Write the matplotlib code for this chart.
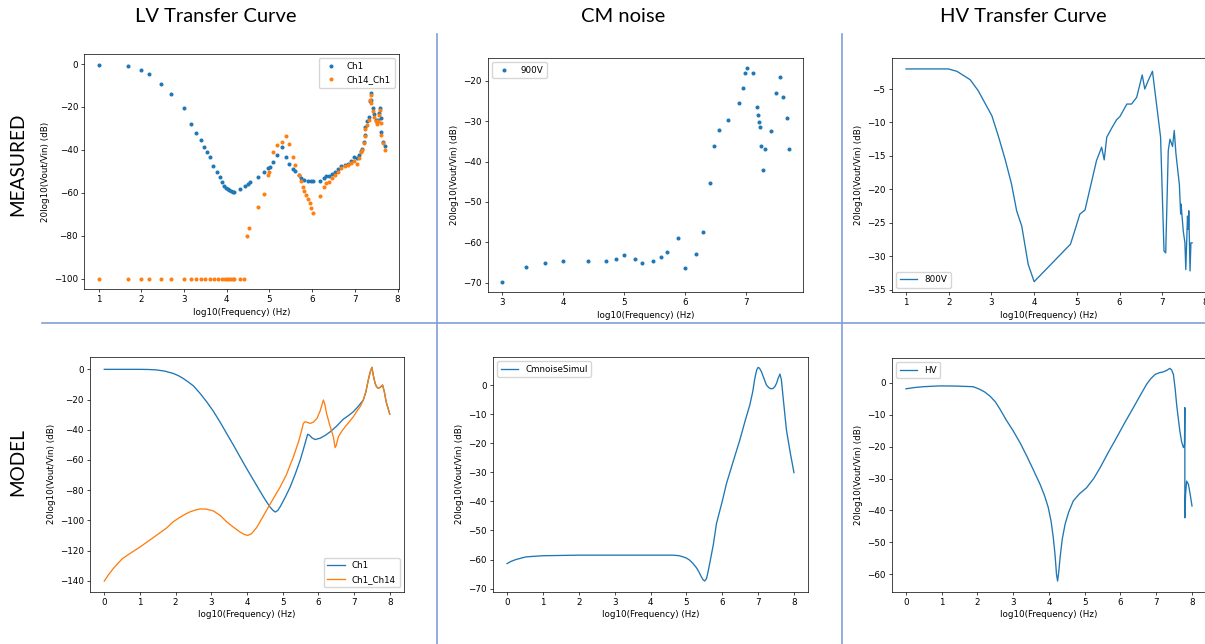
import matplotlib
matplotlib.use("Agg")
import matplotlib.pyplot as plt
from matplotlib.lines import Line2D

# ---------------- measured: LV transfer curve ----------------
lv_ch1_logf = [1.0, 1.70, 1.99, 2.17, 2.47, 2.70, 2.99, 3.17, 3.28, 3.40, 3.47, 3.54,
               3.61, 3.69, 3.78, 3.84, 3.89, 3.94, 3.99, 4.03, 4.06, 4.10, 4.14, 4.18,
               4.30, 4.42, 4.49, 4.55, 4.73, 4.87, 4.97, 5.01, 5.08, 5.18, 5.29, 5.40,
               5.47, 5.55, 5.61, 5.69, 5.75, 5.82, 5.90, 5.98, 6.02, 6.18, 6.29, 6.33,
               6.39, 6.46, 6.53, 6.61, 6.68, 6.76, 6.84, 6.92, 6.97, 7.04, 7.10, 7.14,
               7.18, 7.21, 7.23, 7.25, 7.29, 7.33, 7.35, 7.37, 7.39, 7.42, 7.45, 7.49,
               7.52, 7.54, 7.57, 7.58, 7.61, 7.62, 7.66, 7.70]
lv_ch1_db = [-0.3, -0.9, -2.8, -4.5, -9.2, -13.8, -20.4, -28.0, -32.0, -35.6, -38.6, -41.0,
             -43.4, -47.3, -50.2, -52.7, -54.9, -56.8, -57.7, -58.3, -58.8, -59.3, -59.6, -59.6,
             -58.2, -56.8, -55.7, -55.0, -52.7, -50.4, -48.5, -48.0, -45.6, -42.6, -38.7, -43.1,
             -46.5, -48.7, -49.9, -51.9, -53.2, -54.1, -54.6, -54.7, -54.7, -54.3, -52.9, -52.4,
             -52.4, -51.2, -50.2, -49.0, -47.4, -47.1, -46.7, -45.1, -43.4, -44.0, -42.3, -40.3,
             -39.5, -36.1, -33.0, -29.4, -26.7, -24.7, -17.4, -13.5, -16.6, -20.5, -23.2, -26.0,
             -27.2, -26.0, -22.9, -20.5, -25.2, -31.9, -36.1, -38.4]

lv_ch14_logf = [1.0, 1.70, 1.99, 2.17, 2.47, 2.70, 2.99, 3.17, 3.28, 3.40, 3.49, 3.60,
                3.70, 3.79, 3.89, 3.95, 4.00, 4.05, 4.09, 4.14, 4.18, 4.30, 4.40,
                4.47, 4.53, 4.73, 4.87, 4.97, 5.00, 5.08, 5.18, 5.29, 5.40, 5.47, 5.55,
                5.61, 5.69, 5.75, 5.78, 5.82, 5.86, 5.90, 5.94, 5.98, 6.02, 6.18, 6.29,
                6.33, 6.39, 6.46, 6.53, 6.61, 6.68, 6.76, 6.84, 6.92, 6.97, 7.04, 7.10,
                7.14, 7.18, 7.21, 7.23, 7.25, 7.29, 7.33, 7.35, 7.37, 7.39, 7.42, 7.45,
                7.49, 7.52, 7.54, 7.57, 7.58, 7.61, 7.62, 7.66, 7.70]
lv_ch14_db = [-100, -100, -100, -100, -100, -100, -100, -100, -100, -100, -100, -100,
              -100, -100, -100, -100, -100, -100, -100, -100, -100, -100, -100,
              -80.1, -76.5, -66.4, -60.5, -51.6, -50.1, -41.2, -37.8, -36.2, -33.7, -37.2, -43.1,
              -47.0, -51.6, -54.5, -57.1, -59.4, -61.0, -63.0, -64.9, -67.2, -69.2, -61.7, -57.1,
              -55.5, -55.2, -53.2, -51.6, -50.1, -48.5, -47.7, -47.0, -46.2, -45.4, -46.5, -43.9,
              -41.2, -40.0, -36.9, -33.7, -30.3, -28.3, -26.0, -16.6, -14.3, -18.2, -22.1, -24.7,
              -26.7, -27.8, -26.7, -23.6, -21.3, -27.5, -33.0, -36.9, -40.0]

# ---------------- measured: CM noise ----------------
cm_meas_logf = [3.00, 3.40, 3.70, 4.00, 4.40, 4.70, 4.87, 4.99, 5.18, 5.30, 5.48, 5.60,
                5.71, 5.88, 6.00, 6.18, 6.30, 6.41, 6.48, 6.56, 6.70, 6.88, 6.94, 6.98,
                7.01, 7.11, 7.18, 7.20, 7.21, 7.22, 7.25, 7.27, 7.31, 7.41, 7.48, 7.56,
                7.61, 7.66, 7.70]
cm_meas_db = [-69.7, -66.2, -65.1, -64.5, -64.6, -64.5, -64.1, -63.2, -64.0, -65.2, -64.5, -63.7,
              -62.4, -59.0, -66.4, -62.9, -57.5, -45.2, -36.2, -32.2, -29.6, -25.4, -21.8, -18.2,
              -16.95, -18.0, -26.5, -28.4, -30.1, -31.5, -36.1, -42.2, -36.9, -32.4, -23.0, -19.1,
              -24.0, -29.2, -36.9]

# ---------------- measured: HV transfer curve ----------------
hv_meas_logf = [1.00, 1.99, 2.19, 2.50, 2.69, 3.01, 3.16, 3.32, 3.47, 3.59, 3.71, 3.86,
                4.00, 4.85, 4.96, 5.07, 5.19, 5.46, 5.58, 5.64, 5.70, 5.82, 5.93, 6.01,
                6.17, 6.28, 6.40, 6.53, 6.59, 6.67, 6.77, 6.96, 7.04, 7.08, 7.14, 7.18,
                7.24, 7.28, 7.32, 7.40, 7.43, 7.44, 7.49, 7.53, 7.55, 7.59, 7.61, 7.62,
                7.65, 7.67, 7.70]
hv_meas_db = [-2.0, -2.0, -2.35, -3.6, -5.25, -9.0, -12.0, -15.5, -19.2, -23.2, -25.5, -31.2,
              -33.8, -28.2, -26.0, -23.7, -23.1, -15.7, -13.7, -15.6, -12.2, -10.8, -9.6, -9.1,
              -7.25, -7.25, -6.25, -2.9, -5.0, -3.75, -2.35, -12.2, -29.2, -29.5, -14.2, -12.5,
              -13.6, -11.2, -14.7, -19.3, -23.7, -22.2, -26.2, -28.0, -32.0, -24.0, -26.0, -23.2,
              -32.2, -28.0, -28.0]

# ---------------- model: LV transfer curve ----------------
lv_mod_ch1_logf = [0.0, 0.5, 1.0, 1.25, 1.47, 1.7, 1.93, 2.07, 2.21, 2.35, 2.50, 2.68, 2.87,
                   3.05, 3.24, 3.43, 3.62, 3.80, 3.99, 4.18, 4.36, 4.50, 4.64, 4.72, 4.79,
                   4.86, 4.93, 5.07, 5.21, 5.35, 5.49, 5.58, 5.67, 5.70, 5.75, 5.82, 5.91,
                   6.05, 6.20, 6.33, 6.50, 6.70, 6.85, 6.98, 7.10, 7.17, 7.26, 7.33, 7.40,
                   7.45, 7.50, 7.54, 7.59, 7.63, 7.68, 7.74, 7.80, 7.85, 7.90, 8.0]
lv_mod_ch1_db = [0.0, 0.0, 0.0, -0.1, -0.4, -1.2, -2.7, -4.1, -6.0, -8.3, -11.0, -15.8, -21.5,
                 -27.5, -34.7, -42.5, -50.2, -57.8, -65.7, -73.3, -80.5, -86.0, -91.0, -93.2, -94.5,
                 -93.5, -91.0, -84.8, -77.9, -69.5, -60.2, -53.0, -45.5, -43.0, -43.6, -45.4, -46.5,
                 -45.6, -43.6, -41.4, -37.9, -33.0, -30.5, -28.1, -25.0, -23.0, -20.3, -15.0, -7.0,
                 -2.0, 1.3, -4.0, -9.3, -11.5, -12.6, -11.8, -10.4, -15.0, -21.5, -29.6]

lv_mod_ch14_logf = [0.0, 0.05, 0.12, 0.25, 0.5, 0.75, 1.0, 1.25, 1.5, 1.75, 1.93, 2.10, 2.25,
                    2.40, 2.55, 2.68, 2.85, 3.06, 3.25, 3.43, 3.60, 3.80, 3.92, 4.02, 4.12,
                    4.27, 4.40, 4.55, 4.74, 4.93, 5.10, 5.30, 5.45, 5.52, 5.58, 5.63, 5.70,
                    5.77, 5.86, 5.96, 6.05, 6.11, 6.14, 6.18, 6.23, 6.32, 6.42, 6.47, 6.50,
                    6.56, 6.67, 6.79, 6.98, 7.10, 7.17, 7.26, 7.33, 7.40, 7.45, 7.50, 7.54,
                    7.59, 7.63, 7.68, 7.74, 7.80, 7.85, 7.90, 8.0]
lv_mod_ch14_db = [-140.2, -138.5, -136.0, -132.0, -125.5, -121.5, -117.7, -113.5, -109.3, -105.0,
                  -101.0, -98.3, -96.2, -94.4, -93.2, -92.5, -92.5, -93.8, -96.8, -101.0, -104.2,
                  -107.7, -109.3, -110.0, -109.0, -104.8, -99.5, -93.3, -85.5, -77.9, -70.0, -58.0,
                  -47.5, -41.5, -35.8, -34.7, -35.2, -35.8, -35.0, -32.5, -27.5, -22.8, -20.3,
                  -23.0, -29.2, -37.0, -44.7, -51.8, -50.5, -44.7, -40.5, -36.9, -31.4, -27.0,
                  -24.8, -20.3, -15.0, -7.0, -2.0, 1.3, -4.0, -9.3, -11.5, -12.6, -11.8, -10.4,
                  -15.0, -21.5, -29.6]

# ---------------- model: CM noise ----------------
cm_mod_logf = [0.0, 0.12, 0.25, 0.40, 0.53, 0.75, 1.0, 1.5, 2.0, 2.77, 3.5, 4.2, 4.63, 4.80,
               4.91, 5.00, 5.09, 5.18, 5.28, 5.36, 5.42, 5.47, 5.51, 5.56, 5.60, 5.65, 5.75,
               5.84, 6.00, 6.12, 6.30, 6.49, 6.65, 6.77, 6.85, 6.91, 6.96, 7.00, 7.04, 7.09,
               7.16, 7.23, 7.30, 7.37, 7.42, 7.47, 7.52, 7.56, 7.61, 7.65, 7.70, 7.79, 7.90, 8.0]
cm_mod_db = [-61.4, -60.6, -60.0, -59.5, -59.1, -58.9, -58.7, -58.6, -58.5, -58.5, -58.5, -58.5,
             -58.5, -58.7, -59.1, -59.5, -60.2, -61.3, -62.8, -64.5, -66.0, -67.0, -67.4, -66.6,
             -64.5, -61.4, -55.0, -47.6, -40.0, -33.8, -26.5, -18.9, -11.8, -6.8, -2.3, 2.4,
             5.2, 6.1, 5.8, 4.7, 2.4, 0.1, -0.9, -1.3, -1.1, -0.5, 0.8, 2.4, 3.8, 1.8, -4.5,
             -15.4, -23.5, -30.1]

# ---------------- model: HV transfer curve ----------------
hv_mod_logf = [0.0, 0.25, 0.48, 0.95, 1.40, 1.88, 2.07, 2.20, 2.35, 2.50, 2.63, 2.80, 3.00,
               3.20, 3.38, 3.55, 3.75, 3.88, 3.98, 4.06, 4.12, 4.17, 4.21, 4.24, 4.27, 4.31,
               4.37, 4.45, 4.55, 4.68, 4.85, 5.05, 5.25, 5.43, 5.65, 5.89, 6.12, 6.36, 6.55,
               6.73, 6.85, 6.97, 7.08, 7.20, 7.30, 7.38, 7.43, 7.48, 7.53, 7.57, 7.62, 7.66,
               7.71, 7.76, 7.79, 7.80, 7.80, 7.82, 7.85, 7.90, 7.95, 8.0]
hv_mod_db = [-1.9, -1.5, -1.25, -1.0, -1.05, -1.25, -2.1, -2.9, -4.2, -6.0, -8.3, -11.6, -15.1,
             -19.0, -23.0, -27.0, -31.8, -35.5, -39.1, -43.5, -48.5, -54.0, -60.0, -62.1, -59.5,
             -54.8, -49.0, -44.3, -40.5, -37.0, -34.8, -32.9, -30.0, -26.6, -22.0, -17.2, -12.5,
             -7.8, -4.0, -0.5, 1.3, 2.6, 3.1, 3.4, 3.9, 4.5, 4.0, 2.6, -2.0, -6.8, -11.5, -15.1,
             -18.5, -20.3, -19.3, -7.8, -42.3, -35.0, -30.8, -31.8, -35.0, -38.6]

# ---------------- figure layout ----------------
W, H = 1205, 644
s = 0.635  # scale of each panel relative to a default matplotlib figure

plt.rcParams.update({
    "font.family": "DejaVu Sans",
    "font.size": 10 * s,
    "axes.linewidth": 0.8 * s,
    "lines.linewidth": 1.5 * s,
    "lines.markersize": 6 * s,
    "xtick.major.size": 3.5 * s,
    "ytick.major.size": 3.5 * s,
    "xtick.major.width": 0.8 * s,
    "ytick.major.width": 0.8 * s,
    "xtick.major.pad": 3.5 * s,
    "ytick.major.pad": 3.5 * s,
    "axes.labelpad": 4.0 * s,
    "legend.fontsize": 10 * s,
})

fig = plt.figure(figsize=(W / 100, H / 100), dpi=100)
fig.patch.set_facecolor("white")


def panel(left, top, right, bottom):
    ax = fig.add_axes([left / W, 1 - bottom / H, (right - left) / W, (bottom - top) / H])
    ax.set_xlabel("log10(Frequency) (Hz)")
    ax.set_ylabel("20log10(Vout/Vin) (dB)")
    return ax


ax1 = panel(84.3, 54.0, 399.0, 289.3)
ax1.plot(lv_ch1_logf, lv_ch1_db, ".", color="C0", label="Ch1")
ax1.plot(lv_ch14_logf, lv_ch14_db, ".", color="C1", label="Ch14_Ch1")
ax1.legend(loc="upper right")

ax2 = panel(487.7, 57.7, 803.3, 292.3)
ax2.plot(cm_meas_logf, cm_meas_db, ".", color="C0", label="900V")
ax2.legend(loc="upper left")

ax3 = panel(891.7, 58.3, 1206.5, 292.3)
ax3.plot(hv_meas_logf, hv_meas_db, color="C0", label="800V")
ax3.legend(loc="lower left")

ax4 = panel(90.0, 356.7, 404.0, 591.7)
ax4.plot(lv_mod_ch1_logf, lv_mod_ch1_db, color="C0", label="Ch1")
ax4.plot(lv_mod_ch14_logf, lv_mod_ch14_db, color="C1", label="Ch1_Ch14")
ax4.legend(loc="lower right")

ax5 = panel(492.7, 356.7, 808.3, 591.7)
ax5.plot(cm_mod_logf, cm_mod_db, color="C0", label="CmnoiseSimul")
ax5.legend(loc="upper left")

ax6 = panel(891.7, 357.7, 1206.3, 591.7)
ax6.plot(hv_mod_logf, hv_mod_db, color="C0", label="HV")
ax6.legend(loc="upper left")

# ---------------- slide headers and dividers ----------------
head = dict(family=["Lato", "DejaVu Sans"], color="black", ha="center", va="center")
fig.text(215.8 / W, 1 - 17 / H, "LV Transfer Curve", fontsize=14.5, **head)
fig.text(623.3 / W, 1 - 17 / H, "CM noise", fontsize=14.5, **head)
fig.text(1023.8 / W, 1 - 17 / H, "HV Transfer Curve", fontsize=14.5, **head)
fig.text(17.5 / W, 1 - 164 / H, "MEASURED", fontsize=13.7, rotation=90, **head)
fig.text(17.5 / W, 1 - 462 / H, "MODEL", fontsize=13.7, rotation=90, **head)

div = dict(color="#7f9fd8", linewidth=1.2, transform=fig.transFigure)
fig.add_artist(Line2D([41.7 / W, 1.0], [1 - 322.7 / H, 1 - 322.7 / H], **div))
fig.add_artist(Line2D([436.7 / W, 436.7 / W], [1 - 34 / H, 0.0], **div))
fig.add_artist(Line2D([841.7 / W, 841.7 / W], [1 - 34 / H, 0.0], **div))

fig.savefig("out.png", dpi=100, facecolor="white")
